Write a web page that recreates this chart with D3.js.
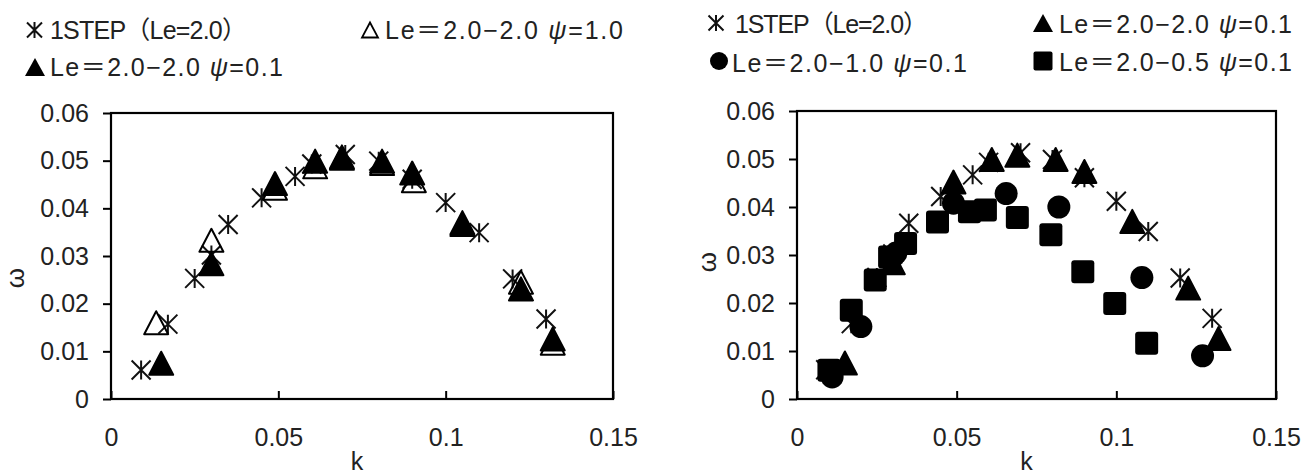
<!DOCTYPE html>
<html>
<head>
<meta charset="utf-8">
<script src="https://cdn.jsdelivr.net/npm/d3@7"></script>
<style>
  body { margin: 0; background: #fff; }
  text { font-family: "Liberation Sans", "Noto Sans CJK JP", sans-serif; fill: #222; }
</style>
</head>
<body>
<div id="chart"></div>
<script>
'use strict'

// 1STEP (Le=2.0)
let stepK = [0.009, 0.017, 0.025, 0.030, 0.035, 0.045, 0.055, 0.060, 0.070, 0.080, 0.090, 0.100, 0.110, 0.120, 0.130]
let stepW = [0.0061, 0.0157, 0.0253, 0.0302, 0.0366, 0.0422, 0.0467, 0.0493, 0.0513, 0.0499, 0.0461, 0.0412, 0.0349, 0.0252, 0.0168]

// Le=2.0-2.0 psi=1.0 (open triangle)
let openK = [0.0135, 0.030, 0.049, 0.061, 0.069, 0.081, 0.0905, 0.105, 0.1225, 0.132]
let openW = [0.0160, 0.0333, 0.0442, 0.0487, 0.0505, 0.0494, 0.0458, 0.0366, 0.0245, 0.0117]

// Le=2.0-2.0 psi=0.1 (filled triangle)
let triK = [0.015, 0.030, 0.049, 0.061, 0.069, 0.081, 0.090, 0.105, 0.1225, 0.132]
let triW = [0.0075, 0.0284, 0.0452, 0.0499, 0.0508, 0.0499, 0.0474, 0.0370, 0.0231, 0.0126]

// Le=2.0-1.0 psi=0.1 (circle)
let cirK = [0.011, 0.020, 0.031, 0.049, 0.0655, 0.082, 0.108, 0.127]
let cirW = [0.0046, 0.0151, 0.0304, 0.0408, 0.0428, 0.0400, 0.0253, 0.0090]

// Le=2.0-0.5 psi=0.1 (square)
let sqK = [0.010, 0.017, 0.0245, 0.029, 0.034, 0.044, 0.054, 0.059, 0.069, 0.0795, 0.0895, 0.0995, 0.1095]
let sqW = [0.0060, 0.0185, 0.0248, 0.0296, 0.0324, 0.0369, 0.0390, 0.0394, 0.0378, 0.0342, 0.0265, 0.0199, 0.0116]

let xTicks = [0, 0.05, 0.1, 0.15]
let yTicks = [0, 0.01, 0.02, 0.03, 0.04, 0.05, 0.06]
let xTitle = "k"
let yTitle = "ω"

let svg = d3.select("#chart").append("svg")
  .attr("width", 1307)
  .attr("height", 475)

function zip(a, b) { return a.map((v, i) => [v, b[i]]) }

// marker painters
function asterisk(g, pts, x, y) {
  let h = 9.5
  g.append("g").selectAll("path").data(pts).enter().append("path")
    .attr("d", d => {
      let cx = x(d[0]), cy = y(d[1])
      return "M" + (cx - h) + "," + (cy - h) + "L" + (cx + h) + "," + (cy + h) +
        "M" + (cx + h) + "," + (cy - h) + "L" + (cx - h) + "," + (cy + h) +
        "M" + cx + "," + (cy - h) + "L" + cx + "," + (cy + h)
    })
    .style("stroke", "#111").style("stroke-width", 2).style("fill", "none")
}

function triPath(cx, cy, w, hh) {
  return "M" + cx + "," + (cy - hh / 2) + "L" + (cx + w / 2) + "," + (cy + hh / 2) +
    "L" + (cx - w / 2) + "," + (cy + hh / 2) + "Z"
}

function triangles(g, pts, x, y, filled) {
  g.append("g").selectAll("path").data(pts).enter().append("path")
    .attr("d", d => triPath(x(d[0]), y(d[1]), 24, 23))
    .style("fill", filled ? "#000" : "none")
    .style("stroke", "#000").style("stroke-width", 2)
    .style("stroke-linejoin", "round")
}

function circles(g, pts, x, y) {
  g.append("g").selectAll("circle").data(pts).enter().append("circle")
    .attr("cx", d => x(d[0])).attr("cy", d => y(d[1])).attr("r", 11.5)
    .style("fill", "#000")
}

function squares(g, pts, x, y) {
  g.append("g").selectAll("rect").data(pts).enter().append("rect")
    .attr("x", d => x(d[0]) - 11.5).attr("y", d => y(d[1]) - 11.5)
    .attr("width", 23).attr("height", 23).attr("rx", 3)
    .style("fill", "#000")
}

function panel(left, right, top, bottom, titleX, titleY) {
  let x = d3.scaleLinear().domain([0, 0.15]).range([left, right])
  let y = d3.scaleLinear().domain([0, 0.06]).range([bottom, top])
  let g = svg.append("g")

  g.append("rect")
    .attr("x", left).attr("y", top)
    .attr("width", right - left).attr("height", bottom - top)
    .style("fill", "none").style("stroke", "#000").style("stroke-width", 2.2)

  let yAxis = d3.axisLeft(y).tickValues(yTicks).tickFormat(d => d3.format("")(+d.toFixed(2)))
    .tickSize(8).tickPadding(14)
  let ya = g.append("g").attr("transform", "translate(" + left + ",0)").call(yAxis)
  ya.select(".domain").remove()
  ya.selectAll("line").style("stroke", "#000").style("stroke-width", 2)
  ya.selectAll("text").style("font-size", "25px").style("fill", "#222")
    .style("font-family", "Liberation Sans, sans-serif")

  let xAxis = d3.axisBottom(x).tickValues(xTicks).tickFormat(d => d3.format("")(+d.toFixed(2)))
    .tickSize(-8).tickPadding(0)
  let xa = g.append("g").attr("transform", "translate(0," + bottom + ")").call(xAxis)
  xa.select(".domain").remove()
  xa.selectAll("line").style("stroke", "#000").style("stroke-width", 2)
  xa.selectAll("text").attr("y", 47).attr("dy", null).style("font-size", "25px").style("fill", "#222")
    .style("font-family", "Liberation Sans, sans-serif")

  g.append("text")
    .attr("text-anchor", "middle")
    .attr("x", (left + right) / 2 + titleX).attr("y", 470)
    .style("font-size", "25px")
    .text(xTitle)

  g.append("text")
    .attr("text-anchor", "middle")
    .attr("dy", "0.3em")
    .attr("transform", "translate(" + titleY[0] + "," + titleY[1] + ")rotate(-90)")
    .style("font-size", "26px")
    .text(yTitle)

  return { g: g, x: x, y: y }
}

function legendItem(sym, cx, cy, tx, ty, label, width) {
  let g = svg.append("g")
  if (sym == "star") {
    let h = 7.5
    g.append("path")
      .attr("d", "M" + (cx - h) + "," + (cy - h) + "L" + (cx + h) + "," + (cy + h) +
        "M" + (cx + h) + "," + (cy - h) + "L" + (cx - h) + "," + (cy + h) +
        "M" + cx + "," + (cy - h - 0.5) + "L" + cx + "," + (cy + h + 0.5))
      .style("stroke", "#111").style("stroke-width", 2)
  } else if (sym == "tri") {
    g.append("path").attr("d", triPath(cx, cy, 20, 18)).style("fill", "#000")
  } else if (sym == "open") {
    g.append("path").attr("d", triPath(cx, cy, 16, 15))
      .style("fill", "none").style("stroke", "#000").style("stroke-width", 1.8)
  } else if (sym == "circle") {
    g.append("circle").attr("cx", cx).attr("cy", cy).attr("r", 9).style("fill", "#000")
  } else {
    g.append("rect").attr("x", cx - 9.5).attr("y", cy - 9.5).attr("width", 19).attr("height", 19)
      .attr("rx", 2).style("fill", "#000")
  }
  let t = g.append("text").attr("x", tx).attr("y", ty).style("font-size", "25px")
    .attr("textLength", width).attr("lengthAdjust", "spacing")
  label.forEach(part => {
    let s = t.append("tspan").text(part[0])
    if (part[1]) s.style("font-style", "italic")
  })
}

let lab1 = [["1STEP（Le=2.0）"]]
let lab2 = [["Le＝2.0−2.0 "], ["ψ", 1], ["=1.0"]]
let lab3 = [["Le＝2.0−2.0 "], ["ψ", 1], ["=0.1"]]
let lab4 = [["Le＝2.0−1.0 "], ["ψ", 1], ["=0.1"]]
let lab5 = [["Le＝2.0−0.5 "], ["ψ", 1], ["=0.1"]]

// left panel
let L = panel(111, 613, 113, 399, -5, [16, 278])
asterisk(L.g, zip(stepK, stepW), L.x, L.y)
triangles(L.g, zip(openK, openW), L.x, L.y, false)
triangles(L.g, zip(triK, triW), L.x, L.y, true)

// right panel
let R = panel(797, 1276, 111, 399, -10, [708, 262])
asterisk(R.g, zip(stepK, stepW), R.x, R.y)
triangles(R.g, zip(triK, triW), R.x, R.y, true)
circles(R.g, zip(cirK, cirW), R.x, R.y)
squares(R.g, zip(sqK, sqW), R.x, R.y)

// legends
legendItem("star", 34.5, 30, 50, 39, lab1, 197)
legendItem("open", 370, 30, 385, 39, lab2, 238)
legendItem("tri", 35, 67, 50, 76, lab3, 233)

legendItem("star", 716, 23, 735, 33, lab1, 193)
legendItem("tri", 1043, 23, 1059, 33, lab3, 233)
legendItem("circle", 719, 61, 732, 72, lab4, 235)
legendItem("square", 1043, 61, 1059, 71, lab5, 233)
</script>
</body>
</html>
